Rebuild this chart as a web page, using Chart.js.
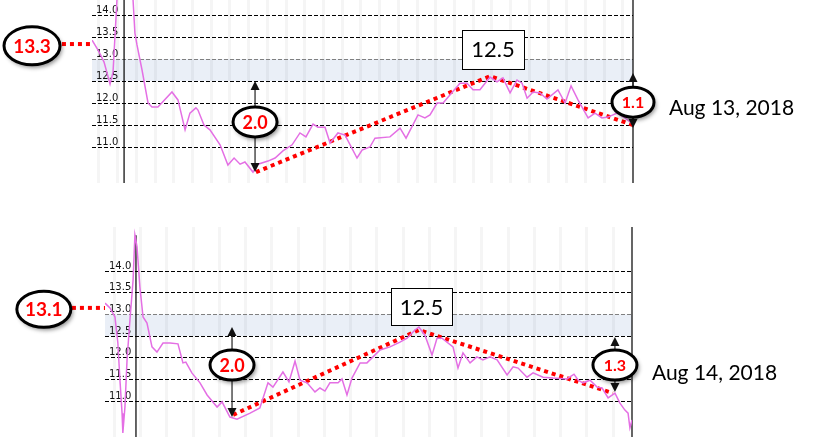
<!DOCTYPE html>
<html>
<head>
<meta charset="utf-8">
<script src="https://cdn.jsdelivr.net/npm/chart.js@4.4.0/dist/chart.umd.min.js"></script>
<style>
    html, body { margin: 0; padding: 0; background: #fff; }
    #wrap { position: relative; width: 817px; height: 437px; overflow: hidden; }
    .panel { position: absolute; left: 0; width: 817px; }
    #top-panel { top: 0; height: 200px; }
    #bottom-panel { top: 200px; height: 237px; }
</style>
</head>
<body>
<div id="wrap">
    <div class="panel" id="top-panel"><canvas id="chart-aug13"></canvas></div>
    <div class="panel" id="bottom-panel"><canvas id="chart-aug14"></canvas></div>
</div>
<script>
// Shared y ticks and the shaded target band
const yTicks = [11.0, 11.5, 12.0, 12.5, 13.0, 13.5, 14.0];
const targetBand = [12.5, 13.0];

// Aug 13, 2018 reading (x = column index)
const aug13X = [-0.37, -0.05, 0.11, 0.27, 0.59, 0.75, 0.96, 1.39, 1.82, 1.92, 2.03, 2.30, 2.62, 2.83, 3.15,
    3.90, 4.22, 4.60, 4.86, 5.18, 5.29, 5.61, 5.93, 6.47, 6.89, 7.22, 7.54, 7.80, 8.23, 8.50,
    9.03, 9.41, 9.83, 10.32, 10.74, 11.06, 11.44, 11.70, 12.08, 12.35, 12.77, 13.15, 13.79, 14.06, 14.48,
    14.75, 15.55, 16.09, 16.41, 17.05, 17.42, 17.69, 18.07, 18.39, 19.29, 19.67, 19.99, 20.36, 20.90, 21.27,
    21.59, 21.97, 22.34, 22.61, 22.88, 23.20, 23.57, 23.94, 24.53, 24.91, 25.23, 25.60, 26.14, 26.51, 26.88,
    27.20, 27.69, 28.11, 28.54];
const aug13Y = [13.43, 13.20, 13.07, 12.93, 12.43, 12.70, 14.34, 15.25, 14.34, 13.59, 13.32, 12.75, 12.00, 11.91, 11.91,
    12.25, 12.07, 11.39, 11.77, 11.89, 11.84, 11.50, 11.39, 11.05, 10.59, 10.75, 10.61, 10.66, 10.43, 10.61,
    10.68, 10.75, 10.91, 11.05, 11.32, 11.23, 11.52, 11.45, 11.45, 11.09, 11.32, 11.27, 10.75, 10.93, 11.00,
    11.20, 11.23, 11.43, 11.20, 11.73, 11.66, 11.73, 12.00, 12.00, 12.45, 12.45, 12.30, 12.30, 12.59, 12.48,
    12.57, 12.23, 12.52, 12.45, 12.11, 12.25, 12.23, 12.09, 12.30, 12.00, 12.39, 12.07, 11.66, 11.77, 11.66,
    11.68, 11.77, 11.66, 11.52];
const aug13TrendX = [8.39, 20.90, 28.54];
const aug13TrendY = [10.43, 12.61, 11.50];
const aug13StartX = [-1.98, -0.37];
const aug13StartY = [13.34, 13.34];
const aug13Dividers = [1.34, 28.54];

// Aug 14, 2018 reading
const aug14X = [-0.36, -0.17, 0.02, 0.13, 0.21, 0.29, 0.32, 0.40, 0.48, 0.59, 0.71, 0.78, 0.86, 0.97, 1.09,
    1.24, 1.43, 1.62, 1.85, 2.12, 2.42, 2.61, 2.72, 2.95, 3.26, 3.53, 3.91, 4.10, 4.40, 4.67,
    5.17, 5.54, 5.85, 6.04, 6.42, 6.65, 6.88, 7.07, 7.34, 7.64, 7.83, 8.02, 8.21, 8.52, 8.67,
    8.86, 9.05, 9.36, 9.62, 10.12, 10.50, 10.88, 11.15, 11.45, 11.60, 11.83, 12.10, 12.29, 12.48, 12.90,
    13.09, 13.28, 13.55, 13.81, 14.04, 14.31, 14.58, 14.96, 15.19, 15.38, 15.72, 15.95, 16.33, 16.71, 17.24,
    17.51, 17.67, 17.85, 18.12, 18.39, 18.58, 18.81, 19.07, 19.26, 19.45, 19.57, 19.64, 19.72];
const aug14Y = [13.26, 13.15, 12.94, 12.34, 11.48, 10.72, 10.26, 10.86, 11.95, 12.87, 13.79, 14.83, 14.56, 13.63, 12.94,
    12.80, 12.25, 12.13, 12.34, 12.34, 12.32, 11.88, 11.90, 11.65, 11.42, 11.14, 10.86, 10.98, 10.63, 10.58,
    10.72, 10.84, 11.42, 11.32, 11.67, 11.44, 11.92, 11.48, 11.42, 11.21, 11.30, 11.23, 11.42, 11.42, 11.51,
    11.14, 11.53, 11.88, 11.88, 12.18, 12.25, 12.36, 12.45, 12.64, 12.71, 12.52, 12.06, 12.45, 12.45, 12.25,
    11.76, 12.11, 11.88, 12.02, 11.95, 12.02, 11.95, 11.60, 11.79, 11.76, 11.55, 11.65, 11.55, 11.53, 11.51,
    11.62, 11.48, 11.42, 11.48, 11.32, 11.30, 11.07, 11.18, 10.95, 10.79, 10.72, 10.38, 10.56];
const aug14TrendX = [4.52, 11.60, 18.99];
const aug14TrendY = [10.68, 12.64, 11.18];
const aug14StartX = [-1.62, -0.36];
const aug14StartY = [13.15, 13.15];
const aug14Dividers = [0.82, 19.72];

// Zip two arrays into {x, y} points
function toPoints(xs, ys) {
    return xs.map((x, i) => ({ x: x, y: ys[i] }));
}

// Light blue band behind the grid, for the target range
const bandPlugin = {
    id: 'band',
    beforeDraw(chart) {
        const { ctx, chartArea, scales } = chart;
        const top = scales.y.getPixelForValue(targetBand[1]);
        const bottom = scales.y.getPixelForValue(targetBand[0]);
        ctx.save();
        ctx.fillStyle = '#eaeff7';
        ctx.fillRect(chartArea.left, top, chartArea.right - chartArea.left, bottom - top);
        ctx.restore();
    }
};

// Ellipses, arrows, boxes and date text placed in data coordinates
const calloutPlugin = {
    id: 'callouts',
    afterDatasetsDraw(chart, args, opts) {
        const { ctx, scales } = chart;
        const px = v => scales.x.getPixelForValue(v);
        const py = v => scales.y.getPixelForValue(v);
        ctx.save();

        (opts.arrows || []).forEach(a => {
            const x = px(a.x), y1 = py(a.from), y2 = py(a.to);
            ctx.strokeStyle = '#222';
            ctx.fillStyle = '#111';
            ctx.lineWidth = 1.2;
            ctx.beginPath();
            ctx.moveTo(x, y1 + 6);
            ctx.lineTo(x, y2 - 6);
            ctx.stroke();
            ctx.beginPath();
            ctx.moveTo(x, y1); ctx.lineTo(x - 4.5, y1 + 9); ctx.lineTo(x + 4.5, y1 + 9);
            ctx.closePath(); ctx.fill();
            ctx.beginPath();
            ctx.moveTo(x, y2); ctx.lineTo(x - 4.5, y2 - 9); ctx.lineTo(x + 4.5, y2 - 9);
            ctx.closePath(); ctx.fill();
        });

        (opts.ellipses || []).forEach(e => {
            const x = px(e.x), y = py(e.y);
            ctx.save();
            ctx.shadowColor = 'rgba(0,0,0,0.45)';
            ctx.shadowBlur = 4;
            ctx.shadowOffsetX = 2;
            ctx.shadowOffsetY = 3;
            ctx.beginPath();
            ctx.ellipse(x, y, e.rx, e.ry, 0, 0, Math.PI * 2);
            ctx.fillStyle = '#fff';
            ctx.fill();
            ctx.restore();
            ctx.beginPath();
            ctx.ellipse(x, y, e.rx, e.ry, 0, 0, Math.PI * 2);
            ctx.lineWidth = 3;
            ctx.strokeStyle = '#000';
            ctx.stroke();
            ctx.fillStyle = '#ff0000';
            ctx.font = `bold ${e.size}px Lato`;
            ctx.textAlign = 'center';
            ctx.textBaseline = 'middle';
            ctx.fillText(e.text, x, y + 1);
        });

        (opts.boxes || []).forEach(b => {
            const x = px(b.x), y = py(b.y);
            ctx.fillStyle = '#fff';
            ctx.fillRect(x - b.w / 2, y - b.h / 2, b.w, b.h);
            ctx.strokeStyle = '#000';
            ctx.lineWidth = 1;
            ctx.strokeRect(Math.round(x - b.w / 2) + 0.5, Math.round(y - b.h / 2) + 0.5, b.w, b.h);
            ctx.fillStyle = '#000';
            ctx.font = '22px Lato';
            ctx.textAlign = 'center';
            ctx.textBaseline = 'middle';
            ctx.fillText(b.text, x, y + 1);
        });

        (opts.texts || []).forEach(t => {
            ctx.fillStyle = '#000';
            ctx.font = '21px Lato';
            ctx.textAlign = 'left';
            ctx.textBaseline = 'middle';
            ctx.fillText(t.text, px(t.x), py(t.y));
        });

        ctx.restore();
    }
};

// Build one panel
function buildChart(canvasId, cfg) {
    const zeroSize = s => {
        s.width = s.isHorizontal() ? s.width : 0;
        s.height = s.isHorizontal() ? 0 : s.height;
        s.paddingTop = s.paddingBottom = s.paddingLeft = s.paddingRight = 0;
    };

    const dividerSets = cfg.dividers.map(d => ({
        data: [{ x: d.x, y: d.top }, { x: d.x, y: cfg.yMin }],
        borderColor: '#000',
        borderWidth: 1.2,
        pointRadius: 0,
        clip: false
    }));

    return new Chart(document.getElementById(canvasId), {
        type: 'line',
        data: {
            datasets: [
                {
                    data: toPoints(cfg.xs, cfg.ys),
                    borderColor: '#e46fe4',
                    borderWidth: 1.5,
                    pointRadius: 0,
                    tension: 0
                },
                ...dividerSets,
                {
                    data: toPoints(cfg.trendX, cfg.trendY),
                    borderColor: '#ff0000',
                    borderWidth: 4,
                    borderDash: [4, 4],
                    borderCapStyle: 'butt',
                    pointRadius: 0,
                    clip: false
                },
                {
                    data: toPoints(cfg.startX, cfg.startY),
                    borderColor: '#ff0000',
                    borderWidth: 4,
                    borderDash: [4, 4],
                    pointRadius: 0,
                    clip: false
                }
            ]
        },
        options: {
            responsive: true,
            maintainAspectRatio: false,
            animation: false,
            layout: { padding: cfg.padding },
            plugins: {
                legend: { display: false },
                tooltip: { enabled: false },
                callouts: cfg.callouts
            },
            scales: {
                x: {
                    type: 'linear',
                    min: cfg.xMin,
                    max: cfg.xMax,
                    afterBuildTicks: s => {
                        s.ticks = [];
                        for (let k = 0; k <= cfg.columns; k++) s.ticks.push({ value: k });
                    },
                    afterFit: zeroSize,
                    ticks: { display: false },
                    grid: { color: 'rgba(0,0,0,0.04)', lineWidth: 3, drawTicks: false },
                    border: { display: false }
                },
                y: {
                    type: 'linear',
                    min: cfg.yMin,
                    max: cfg.yMax,
                    afterBuildTicks: s => { s.ticks = yTicks.map(v => ({ value: v })); },
                    afterFit: zeroSize,
                    ticks: {
                        mirror: true,
                        padding: 4,
                        labelOffset: -5,
                        color: '#111',
                        font: { family: 'DejaVu Sans', size: 10 },
                        callback: v => Number(v).toFixed(1)
                    },
                    grid: {
                        color: c => (c.tick && c.tick.value === 13) ? '#808080' : '#000',
                        lineWidth: 1,
                        drawTicks: false
                    },
                    border: { display: false, dash: [4, 2] }
                }
            }
        },
        plugins: [bandPlugin, calloutPlugin]
    });
}

buildChart('chart-aug13', {
    xs: aug13X, ys: aug13Y,
    trendX: aug13TrendX, trendY: aug13TrendY,
    startX: aug13StartX, startY: aug13StartY,
    dividers: [{ x: aug13Dividers[0], top: 14.341 }, { x: aug13Dividers[1], top: 14.341 }],
    xMin: -0.374, xMax: 28.54, columns: 28,
    yMin: 10.182, yMax: 14.341,
    padding: { left: 92, right: 184, top: 0, bottom: 17 },
    callouts: {
        arrows: [{ x: 8.34, from: 12.5, to: 10.43 }, { x: 28.54, from: 12.68, to: 11.43 }],
        ellipses: [
            { x: -3.58, y: 13.30, rx: 28, ry: 19, size: 19, text: '13.3' },
            { x: 8.34, y: 11.57, rx: 22, ry: 15, size: 18, text: '2.0' },
            { x: 28.54, y: 12.02, rx: 21, ry: 15, size: 16, text: '1.1' }
        ],
        boxes: [{ x: 21.06, y: 13.22, w: 62, h: 39, text: '12.5' }],
        texts: [{ x: 30.46, y: 11.89, text: 'Aug 13, 2018' }]
    }
});

buildChart('chart-aug14', {
    xs: aug14X, ys: aug14Y,
    trendX: aug14TrendX, trendY: aug14TrendY,
    startX: aug14StartX, startY: aug14StartY,
    dividers: [{ x: aug14Dividers[0], top: 14.83 }, { x: aug14Dividers[1], top: 15.018 }],
    xMin: -0.36, xMax: 19.72, columns: 19,
    yMin: 10.169, yMax: 15.018,
    padding: { left: 105, right: 185, top: 27, bottom: 0 },
    callouts: {
        arrows: [{ x: 4.48, from: 12.71, to: 10.63 }, { x: 19.07, from: 12.48, to: 11.21 }],
        ellipses: [
            { x: -2.69, y: 13.12, rx: 27, ry: 18, size: 19, text: '13.1' },
            { x: 4.48, y: 11.83, rx: 22, ry: 15, size: 18, text: '2.0' },
            { x: 19.07, y: 11.83, rx: 22, ry: 15, size: 16, text: '1.3' }
        ],
        boxes: [{ x: 11.70, y: 13.18, w: 61, h: 37, text: '12.5' }],
        texts: [{ x: 20.48, y: 11.65, text: 'Aug 14, 2018' }]
    }
});
</script>
</body>
</html>
